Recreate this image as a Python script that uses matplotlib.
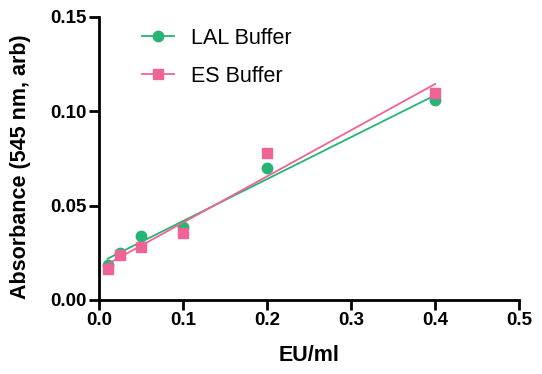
import numpy as np
import matplotlib.pyplot as plt

plt.rcParams['font.family'] = 'Liberation Sans'

conc = [0.01, 0.025, 0.05, 0.1, 0.2, 0.4]  # EU/ml
lal = [0.0185, 0.025, 0.034, 0.0387, 0.070, 0.106]
es = [0.0165, 0.024, 0.0278, 0.0355, 0.078, 0.1097]

green = '#27b474'
pink = '#f06396'

fig = plt.figure(figsize=(5.42, 3.74), dpi=100)
ax = fig.add_axes([0.183, 0.198, 0.775, 0.757])

x = np.array(conc)
xs = np.array([x.min(), x.max()])
for y, c, m, lab in [(lal, green, 'o', 'LAL Buffer'), (es, pink, 's', 'ES Buffer')]:
    k, b = np.polyfit(x, y, 1)  # linear fit
    ax.plot(xs, k * xs + b, color=c, lw=1.3)
    ax.plot(x, y, m, color=c, ms=7.5, ls='none')
    ax.plot([], [], color=c, marker=m, ms=7.5, lw=1.3, label=lab)

ax.set_xlim(0, 0.5)
ax.set_ylim(0, 0.15)
ax.set_xticks([0, 0.1, 0.2, 0.3, 0.4, 0.5])
ax.set_xticklabels(['0.0', '0.1', '0.2', '0.3', '0.4', '0.5'])
ax.set_yticks([0, 0.05, 0.10, 0.15])
ax.set_yticklabels(['0.00', '0.05', '0.10', '0.15'])
for s in ['top', 'right']:
    ax.spines[s].set_visible(False)
for s in ['left', 'bottom']:
    ax.spines[s].set_linewidth(2)
ax.tick_params(width=2, length=7, labelsize=13.5, pad=2)
for t in ax.get_xticklabels() + ax.get_yticklabels():
    t.set_fontweight('bold')
ax.set_xlabel('EU/ml', fontsize=15.5, fontweight='bold', labelpad=11)
ax.set_ylabel('Absorbance (545 nm, arb)', fontsize=15.5, fontweight='bold')
ax.yaxis.set_label_coords(-0.163, 0.47)
ax.legend(loc='upper left', bbox_to_anchor=(0.055, 1.03), frameon=False, fontsize=15.5,
          handlelength=1.5, handletextpad=0.8, labelspacing=0.8)

fig.savefig('out.png', dpi=100)
